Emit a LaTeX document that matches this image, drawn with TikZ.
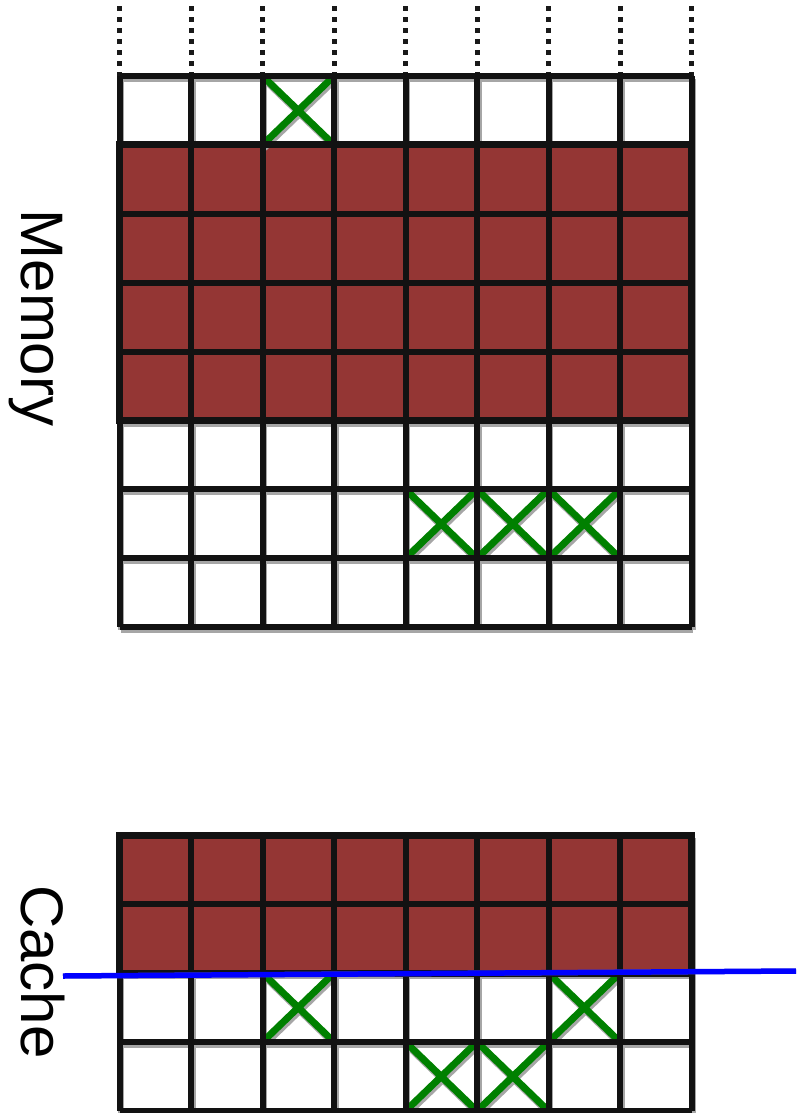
\documentclass[tikz,border=0pt]{standalone}
\usepackage{xcolor}
\usepackage{fontspec}
\setmainfont{Liberation Sans}
\usepackage{tikz}
\definecolor{blockred}{HTML}{943634}
\definecolor{crossgreen}{RGB}{0,128,0}
\tikzset{
  gridline/.style={line width=6pt, black!93},
  shadowline/.style={line width=6pt, gray!70, shift={(1.5pt,-3pt)}},
  dotline/.style={line width=5pt, black!90, dash pattern=on 5pt off 6pt},
  crossline/.style={line width=7pt, crossgreen},
  labeltext/.style={font=\fontsize{60}{62}\selectfont, rotate=-90, anchor=base, inner sep=0pt}
}
\begin{document}
\begin{tikzpicture}[x=1pt,y=-1pt]
\useasboundingbox (0,0) rectangle (796,1113);
% memory
\begin{scope}[shift={(119.5,76)}, x=71.5pt, y=-68.9pt]
\foreach \c in {0,...,8} \draw[shadowline] (\c,0) -- (\c,8);
\foreach \r in {0,...,8} \draw[shadowline] (0,\r) -- (8,\r);
\fill[blockred] (0,1) rectangle (8,5);
\foreach \c in {0,...,8} \draw[dotline] (\c,-1.01) -- (\c,0);
\foreach \c/\r in {2/0,4/6,5/6,6/6} {
  \draw[shadowline, line width=7pt] (\c,\r) -- (\c+1,\r+1) (\c+1,\r) -- (\c,\r+1);
  \draw[crossline] (\c,\r) -- (\c+1,\r+1) (\c+1,\r) -- (\c,\r+1);
}
\foreach \c in {0,...,8} \draw[gridline] (\c,0) -- (\c,8);
\foreach \r in {0,...,8} \draw[gridline] (0,\r) -- (8,\r);
\draw[gridline, line width=7pt] (0,1) rectangle (8,5);
\end{scope}
% cache
\begin{scope}[shift={(119.5,835)}, x=71.5pt, y=-69pt]
\foreach \c in {0,...,8} \draw[shadowline] (\c,0) -- (\c,4);
\foreach \r in {0,...,4} \draw[shadowline] (0,\r) -- (8,\r);
\fill[blockred] (0,0) rectangle (8,2);
\foreach \c/\r in {2/2,6/2,4/3,5/3} {
  \draw[shadowline, line width=7pt] (\c,\r) -- (\c+1,\r+1) (\c+1,\r) -- (\c,\r+1);
  \draw[crossline] (\c,\r) -- (\c+1,\r+1) (\c+1,\r) -- (\c,\r+1);
}
\foreach \c in {0,...,8} \draw[gridline] (\c,0) -- (\c,4);
\foreach \r in {0,...,4} \draw[gridline] (0,\r) -- (8,\r);
\draw[gridline, line width=7pt] (0,0) rectangle (8,2);
\end{scope}
\coordinate (cutleft) at (63,976);
\coordinate (cutright) at (796,971);
\draw[shadowline, line width=5pt] (cutleft) -- (cutright);
\draw[line width=5.5pt, blue] (cutleft) -- (cutright);
\node[labeltext] (memlabel) at (21,318) {Memory};
\node[labeltext] (cachelabel) at (21,972) {Cache};
\end{tikzpicture}
\end{document}
